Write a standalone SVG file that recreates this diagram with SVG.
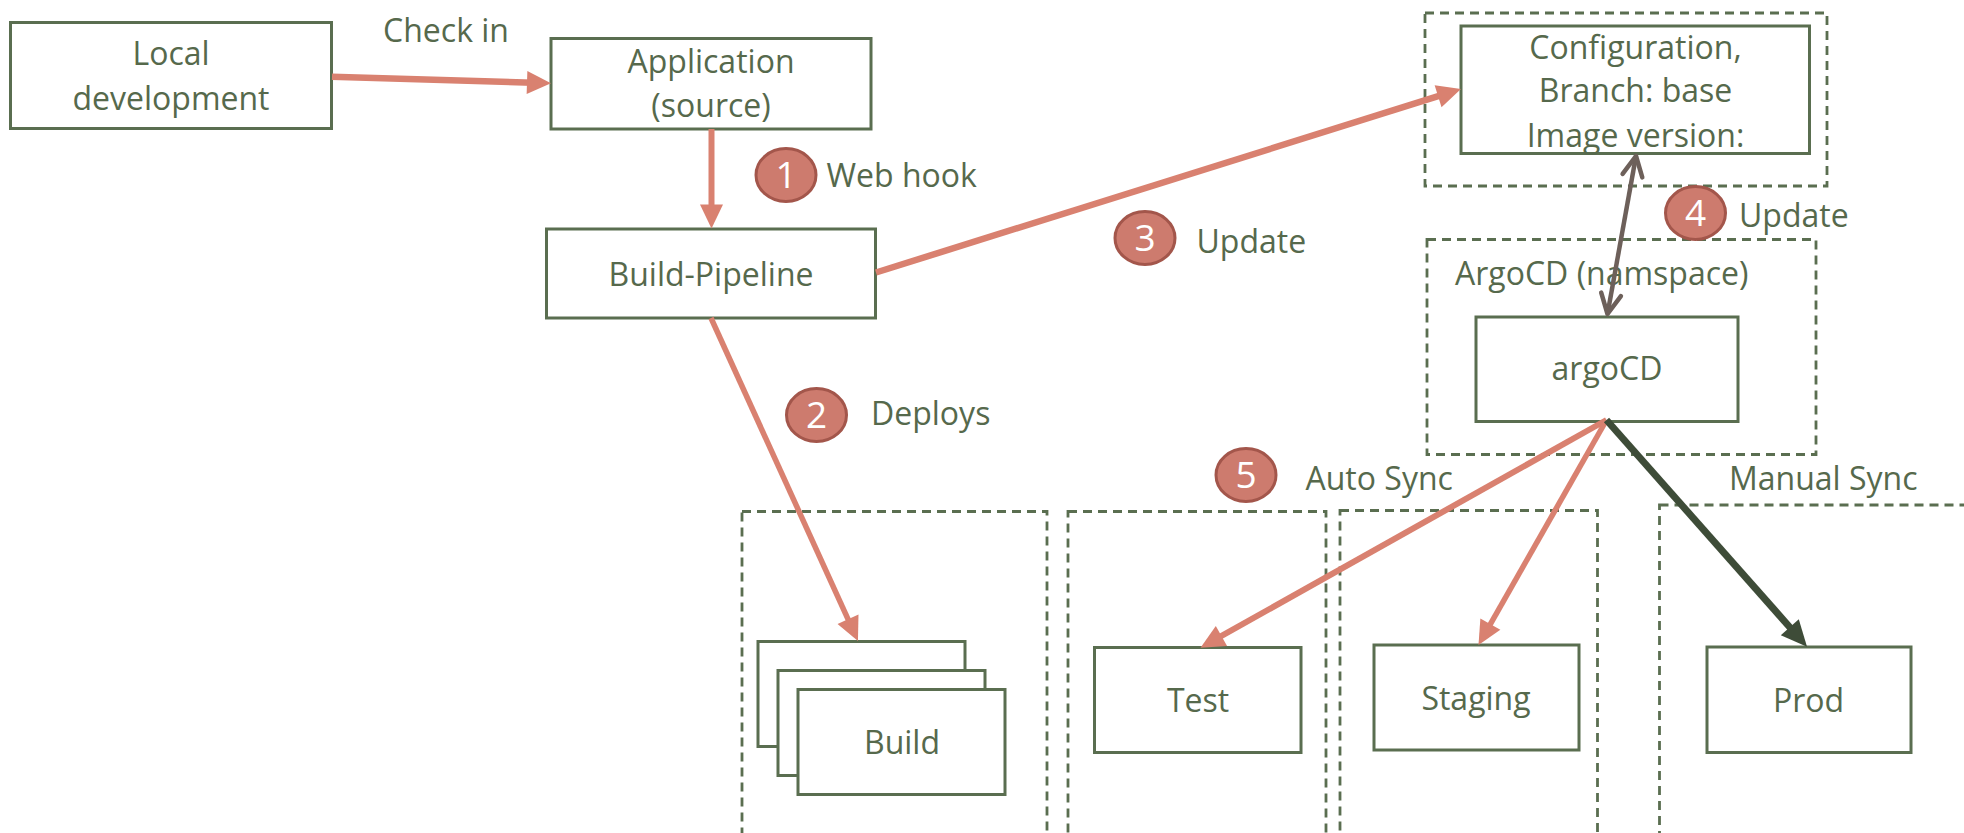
<svg xmlns="http://www.w3.org/2000/svg" width="1964" height="833" viewBox="0 0 1964 833">
<defs>
<style>
.box{fill:#ffffff;stroke:#5a6e50;stroke-width:3}
.dash{fill:none;stroke:#5a6e50;stroke-width:2.8;stroke-dasharray:9 6}
.t{font-family:"Open Sans","Noto Sans",sans-serif;font-size:32px;fill:#56694c}
.m{text-anchor:middle}
.badge{fill:#cd7b6e;stroke:#a3564b;stroke-width:3}
.bt{font-family:"Open Sans","Noto Sans",sans-serif;font-size:37px;fill:#ffffff;text-anchor:middle}
.sal{fill:none;stroke:#d98170}
.gray{fill:none;stroke:#6d605a;stroke-width:4.5}
.dark{fill:none;stroke:#3e4c38;stroke-width:7}
</style>
<marker id="hs" markerUnits="userSpaceOnUse" markerWidth="24" markerHeight="23" refX="6" refY="11.5" orient="auto" overflow="visible">
<path d="M0,0 L24,11.5 L0,23 z" fill="#d98170"/>
</marker>
<marker id="hd" markerUnits="userSpaceOnUse" markerWidth="26" markerHeight="24" refX="8" refY="12" orient="auto" overflow="visible">
<path d="M0,0 L26,12 L0,24 z" fill="#3e4c38"/>
</marker>
<marker id="hg" markerUnits="userSpaceOnUse" markerWidth="24" markerHeight="24" refX="22" refY="11" orient="auto-start-reverse" overflow="visible">
<path d="M2,1 L22,11 L2,21" fill="none" stroke="#6d605a" stroke-width="4.5" stroke-linecap="round" stroke-linejoin="round"/>
</marker>
</defs>
<rect width="1964" height="833" fill="#ffffff"/>

<g id="containers">
<rect id="config-container" class="dash" x="1425" y="13" width="402" height="173"/>
<rect id="argocd-container" class="dash" x="1427" y="239.5" width="389" height="215"/>
<rect id="build-container" class="dash" x="742" y="511.5" width="305" height="360"/>
<rect id="test-container" class="dash" x="1068" y="511.5" width="258" height="360"/>
<rect id="staging-container" class="dash" x="1340" y="510.5" width="257.5" height="360"/>
<rect id="prod-container" class="dash" x="1659.5" y="505" width="340" height="360"/>
</g>

<g id="local-development">
<rect class="box" x="10.5" y="22.5" width="321" height="106"/>
<text class="t m" x="171" y="65">Local</text>
<text class="t m" x="171" y="110">development</text>
</g>

<g id="application">
<rect class="box" x="551" y="38.5" width="320" height="90.5"/>
<text class="t m" x="711" y="73">Application</text>
<text class="t m" x="711" y="117">(source)</text>
</g>

<g id="build-pipeline">
<rect class="box" x="546.5" y="229" width="329" height="89"/>
<text class="t m" x="711" y="286">Build-Pipeline</text>
</g>

<g id="configuration">
<rect class="box" x="1461" y="26" width="348.5" height="127.5"/>
<text class="t m" x="1635.5" y="58.5">Configuration,</text>
<text class="t m" x="1635.5" y="101.5">Branch: base</text>
<text class="t m" x="1635.5" y="146.5">Image version:</text>
</g>

<g id="argocd-namespace-label">
<text class="t" x="1455" y="285">ArgoCD (namspace)</text>
</g>

<g id="argocd">
<rect class="box" x="1476" y="317" width="262" height="104.5"/>
<text class="t m" x="1607" y="380">argoCD</text>
</g>

<g id="build">
<rect class="box" x="758" y="641.5" width="207" height="105"/>
<rect class="box" x="778" y="670.5" width="207" height="105"/>
<rect class="box" x="798" y="689.5" width="207" height="105"/>
<text class="t m" x="902" y="754">Build</text>
</g>

<g id="test">
<rect class="box" x="1094.5" y="647.5" width="206.5" height="105"/>
<text class="t m" x="1198" y="712">Test</text>
</g>

<g id="staging">
<rect class="box" x="1374" y="645" width="205" height="105"/>
<text class="t m" x="1476" y="710">Staging</text>
</g>

<g id="prod">
<rect class="box" x="1707" y="647" width="204" height="105.5"/>
<text class="t m" x="1808.5" y="712">Prod</text>
</g>

<g id="connectors">
<line class="sal" stroke-width="6.5" x1="332" y1="76.7" x2="533" y2="82.8" marker-end="url(#hs)"/>
<line class="sal" stroke-width="6" x1="711.5" y1="129" x2="711.5" y2="210.5" marker-end="url(#hs)"/>
<line class="sal" stroke-width="6.5" x1="876" y1="272.5" x2="1443.8" y2="94.4" marker-end="url(#hs)"/>
<line class="sal" stroke-width="5.5" x1="711" y1="318" x2="850.5" y2="624.6" marker-end="url(#hs)"/>
<line class="sal" stroke-width="6" x1="1606.5" y1="420" x2="1216.2" y2="638.9" marker-end="url(#hs)"/>
<line class="sal" stroke-width="5.5" x1="1606.5" y1="420" x2="1487.4" y2="629.4" marker-end="url(#hs)"/>
<line class="dark" x1="1606.5" y1="420" x2="1795.1" y2="633.2" marker-end="url(#hd)"/>
<line class="gray" x1="1636" y1="156" x2="1607.5" y2="314" marker-start="url(#hg)" marker-end="url(#hg)"/>
</g>

<g id="label-check-in"><text class="t m" x="446" y="42">Check in</text></g>

<g id="badge-1">
<ellipse class="badge" cx="786" cy="175" rx="30" ry="26.5"/>
<text class="bt" x="786" y="188">1</text>
<text class="t" x="826.5" y="187">Web hook</text>
</g>
<g id="badge-2">
<ellipse class="badge" cx="816.5" cy="415" rx="30" ry="26.5"/>
<text class="bt" x="816.5" y="428">2</text>
<text class="t" x="871" y="425">Deploys</text>
</g>
<g id="badge-3">
<ellipse class="badge" cx="1145" cy="238" rx="30" ry="26.5"/>
<text class="bt" x="1145" y="251">3</text>
<text class="t" x="1196.5" y="253">Update</text>
</g>
<g id="badge-4">
<ellipse class="badge" cx="1695.5" cy="213" rx="30" ry="26.5"/>
<text class="bt" x="1695.5" y="226">4</text>
<text class="t" x="1739" y="227">Update</text>
</g>
<g id="badge-5">
<ellipse class="badge" cx="1246" cy="475" rx="30" ry="26.5"/>
<text class="bt" x="1246" y="488">5</text>
<text class="t" x="1305.5" y="490">Auto Sync</text>
</g>
<g id="label-manual-sync"><text class="t" x="1729" y="490">Manual Sync</text></g>
</svg>
